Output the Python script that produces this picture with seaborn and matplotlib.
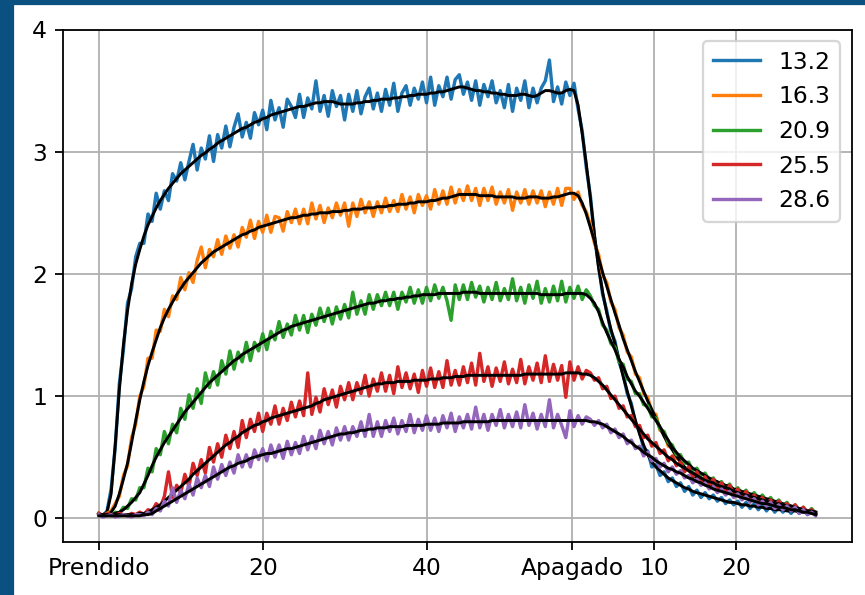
import numpy as np
import matplotlib
matplotlib.use("Agg")
import matplotlib.pyplot as plt
import seaborn as sns
from matplotlib.patches import Rectangle

# Sampling interval of the recorded traces (time units per sample)
SAMPLE_STEP = 0.5

# Time of switch-off and the tick layout of the x axis
OFF_TIME = 57.8
X_TICKS = [0, 20, 40, OFF_TIME, OFF_TIME + 10, OFF_TIME + 20]
X_TICK_LABELS = ["Prendido", "20", "40", "Apagado", "10", "20"]
Y_TICKS = [0, 1, 2, 3, 4]

SERIES_LABELS = ["13.2", "16.3", "20.9", "25.5", "28.6"]

# ---- 13.2 ----
raw_13_2 = [
    0.04, 0.02, 0.06, 0.24, 0.58, 1.10, 1.38, 1.76, 1.88, 2.14,
    2.25, 2.25, 2.49, 2.43, 2.66, 2.53, 2.68, 2.60, 2.82, 2.76,
    2.91, 2.77, 2.92, 3.06, 2.85, 3.03, 2.94, 3.13, 2.92, 3.14,
    3.03, 3.21, 3.04, 3.20, 3.31, 3.12, 3.24, 3.11, 3.32, 3.22,
    3.34, 3.18, 3.42, 3.26, 3.36, 3.20, 3.43, 3.37, 3.28, 3.47,
    3.28, 3.44, 3.35, 3.58, 3.33, 3.46, 3.29, 3.50, 3.37, 3.46,
    3.26, 3.47, 3.33, 3.50, 3.31, 3.45, 3.52, 3.35, 3.48, 3.33,
    3.51, 3.38, 3.56, 3.33, 3.48, 3.54, 3.38, 3.52, 3.43, 3.57,
    3.40, 3.61, 3.38, 3.54, 3.45, 3.61, 3.43, 3.59, 3.63, 3.47,
    3.57, 3.42, 3.58, 3.38, 3.55, 3.45, 3.58, 3.40, 3.50, 3.36,
    3.55, 3.33, 3.52, 3.42, 3.58, 3.36, 3.52, 3.40, 3.52, 3.58,
    3.75, 3.41, 3.53, 3.39, 3.57, 3.46, 3.56, 3.35, 3.17, 2.87,
    2.64, 2.30, 2.07, 1.83, 1.70, 1.53, 1.45, 1.28, 1.18, 1.02,
    0.94, 0.78, 0.71, 0.57, 0.55, 0.42, 0.44, 0.35, 0.38, 0.30,
    0.33, 0.26, 0.29, 0.22, 0.26, 0.19, 0.23, 0.17, 0.21, 0.16,
    0.19, 0.14, 0.17, 0.12, 0.15, 0.11, 0.14, 0.09, 0.13, 0.08,
    0.12, 0.07, 0.11, 0.06, 0.10, 0.05, 0.09, 0.05, 0.08, 0.04,
    0.08, 0.04, 0.07, 0.03, 0.06, 0.03,
]
fit_13_2 = [
    0.03, 0.03, 0.05, 0.20, 0.60, 1.05, 1.42, 1.70, 1.92, 2.08,
    2.20, 2.31, 2.40, 2.47, 2.54, 2.60, 2.65, 2.70, 2.74, 2.78,
    2.82, 2.85, 2.88, 2.91, 2.94, 2.97, 2.99, 3.02, 3.04, 3.07,
    3.09, 3.11, 3.13, 3.15, 3.17, 3.19, 3.20, 3.22, 3.24, 3.25,
    3.27, 3.28, 3.30, 3.31, 3.32, 3.33, 3.34, 3.35, 3.36, 3.37,
    3.37, 3.38, 3.39, 3.40, 3.40, 3.41, 3.41, 3.41, 3.40, 3.39,
    3.39, 3.39, 3.39, 3.40, 3.40, 3.41, 3.41, 3.42, 3.42, 3.43,
    3.43, 3.43, 3.44, 3.44, 3.45, 3.45, 3.46, 3.46, 3.47, 3.47,
    3.47, 3.48, 3.48, 3.49, 3.49, 3.50, 3.51, 3.52, 3.53, 3.53,
    3.52, 3.51, 3.50, 3.50, 3.49, 3.49, 3.48, 3.48, 3.47, 3.47,
    3.46, 3.46, 3.46, 3.47, 3.47, 3.46, 3.45, 3.46, 3.48, 3.50,
    3.50, 3.49, 3.48, 3.48, 3.50, 3.51, 3.50, 3.38, 3.15, 2.90,
    2.62, 2.32, 2.05, 1.85, 1.68, 1.55, 1.43, 1.30, 1.16, 1.04,
    0.92, 0.80, 0.69, 0.60, 0.52, 0.46, 0.42, 0.39, 0.36, 0.33,
    0.31, 0.29, 0.27, 0.25, 0.24, 0.22, 0.21, 0.20, 0.19, 0.18,
    0.17, 0.16, 0.15, 0.14, 0.13, 0.13, 0.12, 0.11, 0.11, 0.10,
    0.10, 0.09, 0.09, 0.08, 0.08, 0.07, 0.07, 0.07, 0.06, 0.06,
    0.06, 0.05, 0.05, 0.05, 0.04, 0.04,
]

# ---- 16.3 ----
raw_16_3 = [
    0.04, 0.02, 0.04, 0.06, 0.12, 0.18, 0.35, 0.43, 0.66, 0.77,
    1.00, 1.08, 1.31, 1.31, 1.54, 1.53, 1.71, 1.65, 1.82, 1.79,
    1.97, 1.87, 2.01, 1.93, 2.11, 2.22, 2.05, 2.20, 2.14, 2.28,
    2.16, 2.31, 2.21, 2.32, 2.22, 2.38, 2.30, 2.44, 2.29, 2.43,
    2.34, 2.48, 2.34, 2.47, 2.46, 2.35, 2.51, 2.42, 2.53, 2.41,
    2.53, 2.41, 2.58, 2.45, 2.56, 2.42, 2.54, 2.46, 2.58, 2.48,
    2.58, 2.39, 2.58, 2.47, 2.61, 2.50, 2.59, 2.47, 2.59, 2.50,
    2.62, 2.51, 2.60, 2.51, 2.65, 2.53, 2.63, 2.50, 2.65, 2.56,
    2.64, 2.53, 2.69, 2.57, 2.68, 2.57, 2.71, 2.58, 2.69, 2.60,
    2.72, 2.60, 2.70, 2.56, 2.70, 2.60, 2.71, 2.57, 2.67, 2.58,
    2.69, 2.52, 2.67, 2.58, 2.69, 2.57, 2.68, 2.58, 2.68, 2.55,
    2.67, 2.57, 2.70, 2.56, 2.70, 2.70, 2.61, 2.67, 2.56, 2.51,
    2.40, 2.25, 2.16, 1.99, 1.93, 1.77, 1.71, 1.56, 1.50, 1.36,
    1.32, 1.18, 1.15, 1.02, 0.99, 0.87, 0.85, 0.72, 0.70, 0.59,
    0.58, 0.49, 0.48, 0.40, 0.41, 0.34, 0.35, 0.29, 0.31, 0.25,
    0.28, 0.23, 0.26, 0.20, 0.23, 0.18, 0.21, 0.16, 0.19, 0.14,
    0.18, 0.13, 0.16, 0.11, 0.14, 0.09, 0.13, 0.08, 0.11, 0.07,
    0.10, 0.05, 0.09, 0.04, 0.07, 0.04,
]
fit_16_3 = [
    0.03, 0.03, 0.03, 0.05, 0.10, 0.20, 0.32, 0.45, 0.62, 0.80,
    0.97, 1.12, 1.25, 1.36, 1.46, 1.56, 1.64, 1.71, 1.77, 1.83,
    1.88, 1.93, 1.97, 2.01, 2.05, 2.09, 2.12, 2.15, 2.18, 2.20,
    2.22, 2.24, 2.26, 2.28, 2.30, 2.32, 2.33, 2.35, 2.36, 2.38,
    2.39, 2.40, 2.41, 2.42, 2.43, 2.44, 2.45, 2.46, 2.46, 2.47,
    2.48, 2.48, 2.49, 2.49, 2.50, 2.50, 2.50, 2.51, 2.51, 2.51,
    2.52, 2.52, 2.53, 2.53, 2.53, 2.54, 2.54, 2.54, 2.55, 2.55,
    2.55, 2.56, 2.56, 2.57, 2.57, 2.57, 2.58, 2.58, 2.59, 2.59,
    2.59, 2.60, 2.60, 2.61, 2.62, 2.62, 2.63, 2.64, 2.65, 2.65,
    2.65, 2.65, 2.65, 2.64, 2.64, 2.64, 2.64, 2.63, 2.63, 2.63,
    2.63, 2.63, 2.62, 2.62, 2.62, 2.63, 2.63, 2.63, 2.62, 2.62,
    2.62, 2.63, 2.63, 2.64, 2.65, 2.66, 2.66, 2.64, 2.58, 2.49,
    2.38, 2.27, 2.13, 2.01, 1.90, 1.79, 1.68, 1.58, 1.47, 1.38,
    1.29, 1.20, 1.12, 1.04, 0.96, 0.89, 0.82, 0.74, 0.67, 0.61,
    0.56, 0.51, 0.46, 0.42, 0.39, 0.36, 0.33, 0.31, 0.29, 0.27,
    0.26, 0.25, 0.24, 0.22, 0.21, 0.20, 0.19, 0.18, 0.17, 0.16,
    0.16, 0.15, 0.14, 0.13, 0.12, 0.11, 0.11, 0.10, 0.09, 0.09,
    0.08, 0.07, 0.07, 0.06, 0.05, 0.05,
]

# ---- 20.9 ----
raw_20_9 = [
    0.04, 0.02, 0.04, 0.02, 0.05, 0.04, 0.09, 0.08, 0.16, 0.15,
    0.25, 0.25, 0.41, 0.38, 0.57, 0.52, 0.71, 0.61, 0.77, 0.70,
    0.90, 0.81, 1.01, 0.90, 1.06, 0.94, 1.19, 1.07, 1.20, 1.09,
    1.29, 1.18, 1.37, 1.22, 1.36, 1.28, 1.44, 1.29, 1.44, 1.37,
    1.51, 1.38, 1.53, 1.46, 1.61, 1.48, 1.59, 1.50, 1.66, 1.54,
    1.66, 1.52, 1.67, 1.58, 1.72, 1.61, 1.72, 1.59, 1.73, 1.63,
    1.75, 1.64, 1.85, 1.67, 1.78, 1.67, 1.83, 1.71, 1.83, 1.74,
    1.85, 1.74, 1.85, 1.71, 1.85, 1.77, 1.89, 1.76, 1.87, 1.76,
    1.89, 1.78, 1.91, 1.80, 1.89, 1.78, 1.62, 1.91, 1.79, 1.91,
    1.79, 1.93, 1.81, 1.90, 1.77, 1.89, 1.79, 1.93, 1.78, 1.88,
    1.79, 1.96, 1.78, 1.89, 1.76, 1.91, 1.80, 1.94, 1.76, 1.88,
    1.77, 1.90, 1.78, 1.94, 1.77, 1.89, 1.80, 1.90, 1.79, 1.87,
    1.82, 1.74, 1.71, 1.58, 1.54, 1.43, 1.40, 1.28, 1.26, 1.14,
    1.12, 1.02, 1.02, 0.93, 0.92, 0.83, 0.82, 0.73, 0.71, 0.62,
    0.60, 0.52, 0.52, 0.45, 0.46, 0.39, 0.41, 0.35, 0.37, 0.31,
    0.33, 0.28, 0.30, 0.25, 0.28, 0.22, 0.25, 0.20, 0.23, 0.18,
    0.21, 0.16, 0.19, 0.14, 0.17, 0.12, 0.15, 0.10, 0.13, 0.08,
    0.11, 0.06, 0.09, 0.04, 0.08, 0.04,
]
fit_20_9 = [
    0.03, 0.03, 0.03, 0.03, 0.04, 0.05, 0.07, 0.10, 0.13, 0.17,
    0.21, 0.28, 0.35, 0.43, 0.50, 0.56, 0.62, 0.67, 0.72, 0.77,
    0.82, 0.87, 0.91, 0.95, 0.99, 1.03, 1.07, 1.11, 1.14, 1.17,
    1.20, 1.23, 1.26, 1.29, 1.31, 1.34, 1.36, 1.38, 1.40, 1.42,
    1.44, 1.46, 1.48, 1.50, 1.52, 1.54, 1.55, 1.57, 1.58, 1.59,
    1.60, 1.61, 1.62, 1.63, 1.64, 1.65, 1.66, 1.67, 1.68, 1.69,
    1.70, 1.71, 1.72, 1.73, 1.74, 1.75, 1.76, 1.76, 1.77, 1.78,
    1.78, 1.79, 1.79, 1.80, 1.80, 1.81, 1.81, 1.82, 1.82, 1.83,
    1.83, 1.83, 1.83, 1.84, 1.84, 1.84, 1.84, 1.84, 1.84, 1.85,
    1.85, 1.85, 1.85, 1.84, 1.84, 1.84, 1.84, 1.84, 1.84, 1.84,
    1.84, 1.84, 1.84, 1.84, 1.84, 1.84, 1.84, 1.84, 1.83, 1.83,
    1.83, 1.83, 1.83, 1.83, 1.84, 1.84, 1.84, 1.84, 1.84, 1.83,
    1.80, 1.76, 1.69, 1.60, 1.52, 1.45, 1.38, 1.30, 1.24, 1.16,
    1.10, 1.04, 1.00, 0.95, 0.90, 0.85, 0.80, 0.75, 0.69, 0.64,
    0.58, 0.54, 0.50, 0.47, 0.44, 0.41, 0.39, 0.37, 0.35, 0.33,
    0.31, 0.30, 0.28, 0.27, 0.26, 0.24, 0.23, 0.22, 0.21, 0.20,
    0.19, 0.18, 0.17, 0.16, 0.15, 0.14, 0.13, 0.12, 0.11, 0.10,
    0.09, 0.08, 0.07, 0.06, 0.06, 0.05,
]

# ---- 25.5 ----
raw_25_5 = [
    0.04, 0.02, 0.04, 0.03, 0.02, 0.04, 0.03, 0.02, 0.04, 0.03,
    0.05, 0.03, 0.07, 0.06, 0.12, 0.09, 0.18, 0.38, 0.17, 0.27,
    0.21, 0.36, 0.26, 0.45, 0.35, 0.48, 0.37, 0.58, 0.46, 0.61,
    0.50, 0.68, 0.57, 0.71, 0.58, 0.80, 0.66, 0.81, 0.71, 0.86,
    0.71, 0.86, 0.77, 0.92, 0.77, 0.90, 0.80, 0.95, 0.83, 0.96,
    0.84, 1.19, 0.85, 0.99, 0.87, 1.06, 0.93, 1.05, 0.91, 1.08,
    0.97, 1.11, 0.97, 1.11, 1.02, 1.17, 1.00, 1.14, 1.04, 1.19,
    1.04, 1.17, 1.02, 1.24, 1.07, 1.19, 1.06, 1.18, 1.03, 1.21,
    1.08, 1.23, 1.07, 1.20, 1.07, 1.29, 1.09, 1.21, 1.09, 1.24,
    1.11, 1.27, 1.09, 1.35, 1.12, 1.24, 1.08, 1.23, 1.12, 1.28,
    1.10, 1.22, 1.11, 1.30, 1.10, 1.24, 1.13, 1.27, 1.11, 1.33,
    1.12, 1.26, 1.13, 1.25, 0.99, 1.28, 1.13, 1.24, 1.14, 1.21,
    1.19, 1.13, 1.15, 1.06, 1.08, 0.98, 1.00, 0.90, 0.92, 0.83,
    0.84, 0.75, 0.76, 0.66, 0.68, 0.59, 0.62, 0.53, 0.56, 0.47,
    0.51, 0.43, 0.46, 0.38, 0.42, 0.34, 0.38, 0.30, 0.34, 0.27,
    0.32, 0.25, 0.29, 0.22, 0.27, 0.20, 0.24, 0.17, 0.22, 0.16,
    0.19, 0.14, 0.17, 0.12, 0.15, 0.10, 0.14, 0.09, 0.12, 0.08,
    0.11, 0.06, 0.09, 0.05, 0.07, 0.04,
]
fit_25_5 = [
    0.03, 0.03, 0.03, 0.03, 0.03, 0.03, 0.03, 0.03, 0.03, 0.03,
    0.04, 0.04, 0.05, 0.07, 0.09, 0.11, 0.14, 0.17, 0.20, 0.23,
    0.26, 0.29, 0.32, 0.36, 0.39, 0.42, 0.45, 0.48, 0.51, 0.54,
    0.57, 0.60, 0.62, 0.65, 0.67, 0.70, 0.72, 0.74, 0.76, 0.77,
    0.79, 0.80, 0.82, 0.83, 0.84, 0.85, 0.86, 0.87, 0.88, 0.89,
    0.90, 0.91, 0.92, 0.94, 0.95, 0.97, 0.98, 0.99, 1.00, 1.01,
    1.02, 1.03, 1.04, 1.05, 1.06, 1.07, 1.08, 1.09, 1.10, 1.10,
    1.11, 1.11, 1.11, 1.12, 1.12, 1.12, 1.12, 1.13, 1.13, 1.13,
    1.13, 1.14, 1.14, 1.14, 1.15, 1.15, 1.15, 1.16, 1.16, 1.16,
    1.17, 1.17, 1.17, 1.17, 1.17, 1.17, 1.17, 1.17, 1.17, 1.17,
    1.17, 1.17, 1.17, 1.17, 1.18, 1.18, 1.18, 1.18, 1.18, 1.18,
    1.18, 1.18, 1.18, 1.18, 1.19, 1.19, 1.19, 1.19, 1.18, 1.18,
    1.17, 1.15, 1.12, 1.09, 1.05, 1.01, 0.97, 0.93, 0.89, 0.85,
    0.81, 0.77, 0.73, 0.69, 0.65, 0.62, 0.59, 0.56, 0.53, 0.50,
    0.48, 0.45, 0.43, 0.41, 0.39, 0.37, 0.35, 0.33, 0.31, 0.30,
    0.29, 0.27, 0.26, 0.25, 0.24, 0.22, 0.21, 0.20, 0.19, 0.18,
    0.17, 0.16, 0.15, 0.14, 0.13, 0.12, 0.12, 0.11, 0.10, 0.10,
    0.09, 0.08, 0.07, 0.06, 0.06, 0.05,
]

# ---- 28.6 ----
raw_28_6 = [
    0.03, 0.01, 0.02, 0.03, 0.01, 0.02, 0.03, 0.02, 0.01, 0.03,
    0.03, 0.02, 0.05, 0.03, 0.08, 0.06, 0.14, 0.10, 0.25, 0.13,
    0.23, 0.16, 0.28, 0.19, 0.33, 0.25, 0.35, 0.26, 0.42, 0.32,
    0.44, 0.35, 0.46, 0.37, 0.52, 0.42, 0.52, 0.42, 0.56, 0.48,
    0.57, 0.47, 0.60, 0.50, 0.60, 0.49, 0.63, 0.52, 0.62, 0.53,
    0.67, 0.56, 0.67, 0.57, 0.72, 0.61, 0.71, 0.60, 0.74, 0.64,
    0.75, 0.64, 0.75, 0.67, 0.79, 0.67, 0.85, 0.67, 0.79, 0.67,
    0.80, 0.71, 0.82, 0.69, 0.80, 0.71, 0.85, 0.70, 0.81, 0.72,
    0.84, 0.72, 0.82, 0.71, 0.84, 0.74, 0.86, 0.71, 0.83, 0.74,
    0.85, 0.73, 0.91, 0.74, 0.85, 0.72, 0.85, 0.76, 0.89, 0.74,
    0.85, 0.75, 0.87, 0.74, 0.93, 0.76, 0.86, 0.73, 0.85, 0.75,
    0.97, 0.74, 0.85, 0.76, 0.66, 0.88, 0.75, 0.84, 0.77, 0.83,
    0.81, 0.76, 0.80, 0.74, 0.77, 0.70, 0.73, 0.66, 0.69, 0.61,
    0.64, 0.57, 0.59, 0.51, 0.54, 0.47, 0.49, 0.42, 0.45, 0.38,
    0.42, 0.36, 0.39, 0.33, 0.35, 0.29, 0.32, 0.27, 0.29, 0.24,
    0.26, 0.21, 0.24, 0.19, 0.22, 0.17, 0.20, 0.15, 0.18, 0.13,
    0.16, 0.11, 0.14, 0.10, 0.13, 0.08, 0.11, 0.07, 0.10, 0.06,
    0.09, 0.04, 0.07, 0.03, 0.05, 0.02,
]
fit_28_6 = [
    0.02, 0.02, 0.02, 0.02, 0.02, 0.02, 0.02, 0.02, 0.02, 0.02,
    0.02, 0.03, 0.03, 0.04, 0.06, 0.08, 0.10, 0.12, 0.14, 0.16,
    0.18, 0.20, 0.22, 0.24, 0.26, 0.28, 0.30, 0.32, 0.34, 0.36,
    0.38, 0.40, 0.42, 0.43, 0.45, 0.46, 0.47, 0.49, 0.50, 0.51,
    0.52, 0.53, 0.53, 0.54, 0.55, 0.56, 0.57, 0.57, 0.58, 0.59,
    0.60, 0.61, 0.62, 0.63, 0.64, 0.65, 0.66, 0.67, 0.68, 0.69,
    0.69, 0.70, 0.70, 0.71, 0.72, 0.72, 0.73, 0.73, 0.74, 0.74,
    0.74, 0.75, 0.75, 0.75, 0.75, 0.76, 0.76, 0.76, 0.76, 0.76,
    0.77, 0.77, 0.77, 0.77, 0.78, 0.78, 0.78, 0.78, 0.78, 0.79,
    0.79, 0.79, 0.79, 0.79, 0.79, 0.79, 0.80, 0.80, 0.80, 0.80,
    0.80, 0.80, 0.80, 0.80, 0.80, 0.80, 0.80, 0.80, 0.80, 0.80,
    0.80, 0.80, 0.80, 0.80, 0.80, 0.80, 0.80, 0.80, 0.80, 0.80,
    0.79, 0.79, 0.78, 0.77, 0.75, 0.73, 0.71, 0.69, 0.67, 0.64,
    0.62, 0.59, 0.57, 0.54, 0.52, 0.50, 0.47, 0.45, 0.43, 0.41,
    0.40, 0.38, 0.37, 0.35, 0.33, 0.32, 0.30, 0.29, 0.27, 0.26,
    0.24, 0.23, 0.22, 0.21, 0.20, 0.19, 0.18, 0.17, 0.16, 0.15,
    0.14, 0.13, 0.12, 0.12, 0.11, 0.10, 0.09, 0.09, 0.08, 0.07,
    0.07, 0.06, 0.05, 0.05, 0.04, 0.03,
]

RAW_TRACES = [raw_13_2, raw_16_3, raw_20_9, raw_25_5, raw_28_6]
FIT_TRACES = [fit_13_2, fit_16_3, fit_20_9, fit_25_5, fit_28_6]

DPI = 162
plt.rcParams["font.size"] = 10.4
fig = plt.figure(figsize=(865 / DPI, 595 / DPI), dpi=DPI, facecolor="white")

# Slide frame strips along the left and top edges
frame_color = "#0a5080"
fig.patches.append(Rectangle((0, 0), 12.5 / 865, 1, transform=fig.transFigure,
                             color=frame_color, zorder=-10))
fig.patches.append(Rectangle((0, 1 - 4 / 595), 1, 4 / 595, transform=fig.transFigure,
                             color=frame_color, zorder=-10))

ax = fig.add_axes([63 / 865, 1 - 541.5 / 595, (851.5 - 63) / 865, (541.5 - 29.5) / 595])
palette = sns.color_palette("tab10", len(SERIES_LABELS))

for label, raw, fit, color in zip(SERIES_LABELS, RAW_TRACES, FIT_TRACES, palette):
    t_raw = np.arange(len(raw)) * SAMPLE_STEP
    t_fit = np.arange(len(fit)) * SAMPLE_STEP
    sns.lineplot(x=t_raw, y=raw, color=color, linewidth=2.2, label=label, ax=ax)
    sns.lineplot(x=t_fit, y=fit, color="black", linewidth=1.3, ax=ax)

ax.set_xlim(-4.375, 91.875)
ax.set_ylim(-0.19, 4.0)
ax.set_xticks(X_TICKS)
ax.set_xticklabels(X_TICK_LABELS)
ax.set_yticks(Y_TICKS)
ax.set_yticklabels([str(v) for v in Y_TICKS])
ax.grid(True, color="#b0b0b0", linewidth=0.8)
ax.set_xlabel("")
ax.set_ylabel("")

handles, labels = ax.get_legend_handles_labels()
for h in handles:
    h.set_linewidth(1.5)
ax.legend(handles, labels, loc="upper right")

fig.savefig("out.png", dpi=DPI, facecolor="white")
